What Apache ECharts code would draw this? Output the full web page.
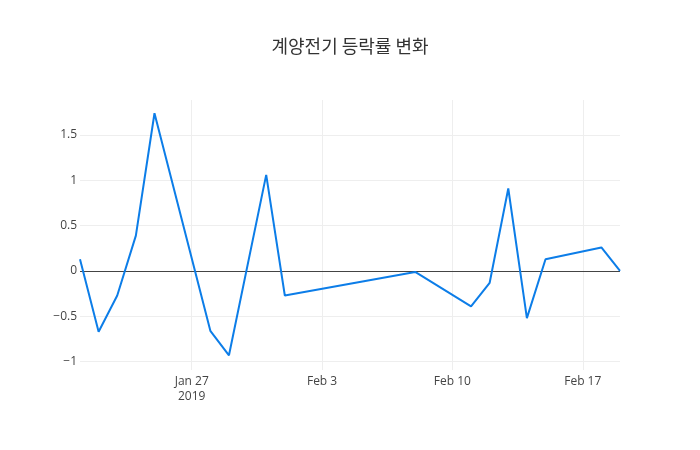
<!DOCTYPE html>
<html>
<head>
<meta charset="utf-8">
<script src="https://cdn.jsdelivr.net/npm/echarts@6/dist/echarts.min.js"></script>
<style>
  html, body { margin: 0; padding: 0; background: #fff; }
  #main { width: 700px; height: 450px; }
</style>
</head>
<body>
<div id="main"></div>
<script>
// 거래일 / 등락률(%)
const dates = [
  "2019-01-21", "2019-01-22", "2019-01-23", "2019-01-24", "2019-01-25",
  "2019-01-28", "2019-01-29", "2019-01-31", "2019-02-01", "2019-02-08",
  "2019-02-11", "2019-02-12", "2019-02-13", "2019-02-14", "2019-02-15",
  "2019-02-18", "2019-02-19"
];
const changes = [
  0.13, -0.67, -0.27, 0.39, 1.74,
  -0.66, -0.93, 1.06, -0.27, -0.01,
  -0.39, -0.13, 0.91, -0.52, 0.13,
  0.26, 0.0
];
const xTicks = ["2019-01-27", "2019-02-03", "2019-02-10", "2019-02-17"];
const xTickLabels = ["Jan 27\n2019", "Feb 3", "Feb 10", "Feb 17"];
const yTicks = [-1, -0.5, 0, 0.5, 1, 1.5];
const yTickLabels = ["\u22121", "\u22120.5", "0", "0.5", "1", "1.5"];

const toTime = (d) => Date.parse(d + "T00:00:00Z");
const tickTimes = xTicks.map(toTime);

const myChart = echarts.init(document.getElementById("main"));

const option = {
  animation: false,
  backgroundColor: "#fff",
  title: {
    text: "계양전기 등락률 변화",
    left: "center",
    top: 32,
    textStyle: {
      fontFamily: "Noto Sans CJK KR",
      fontSize: 18,
      fontWeight: "normal",
      color: "#333",
    },
  },
  grid: {
    left: 80,
    right: 80,
    top: 100,
    bottom: 80,
  },
  xAxis: {
    type: "value",
    min: toTime("2019-01-21"),
    max: toTime("2019-02-19"),
    axisLine: { show: false },
    axisTick: { show: false, customValues: tickTimes },
    splitLine: { show: true, lineStyle: { color: "#eee", width: 1 } },
    axisLabel: {
      customValues: tickTimes,
      margin: 4,
      color: "#444",
      fontFamily: "Open Sans",
      fontSize: 12,
      lineHeight: 15,
      formatter: function (val) {
        const i = tickTimes.indexOf(val);
        return i >= 0 ? xTickLabels[i] : "";
      },
    },
  },
  yAxis: {
    type: "value",
    min: -1.092,
    max: 1.886,
    axisLine: { show: false },
    axisTick: { show: false, customValues: yTicks },
    splitLine: { show: true, lineStyle: { color: "#eee", width: 1 } },
    axisLabel: {
      customValues: yTicks,
      margin: 3,
      color: "#444",
      fontFamily: "Open Sans",
      fontSize: 12,
      formatter: function (val) {
        const i = yTicks.findIndex((t) => Math.abs(t - val) < 1e-9);
        return i >= 0 ? yTickLabels[i] : "";
      },
    },
  },
  series: [
    {
      type: "line",
      data: dates.map((d, i) => [toTime(d), changes[i]]),
      showSymbol: false,
      lineStyle: { color: "#0c7de8", width: 2 },
      itemStyle: { color: "#0c7de8" },
      markLine: {
        silent: true,
        symbol: "none",
        label: { show: false },
        lineStyle: { color: "#444", width: 1, type: "solid" },
        data: [{ yAxis: 0 }],
        z: 1,
      },
    },
  ],
};

myChart.setOption(option);
</script>
</body>
</html>
